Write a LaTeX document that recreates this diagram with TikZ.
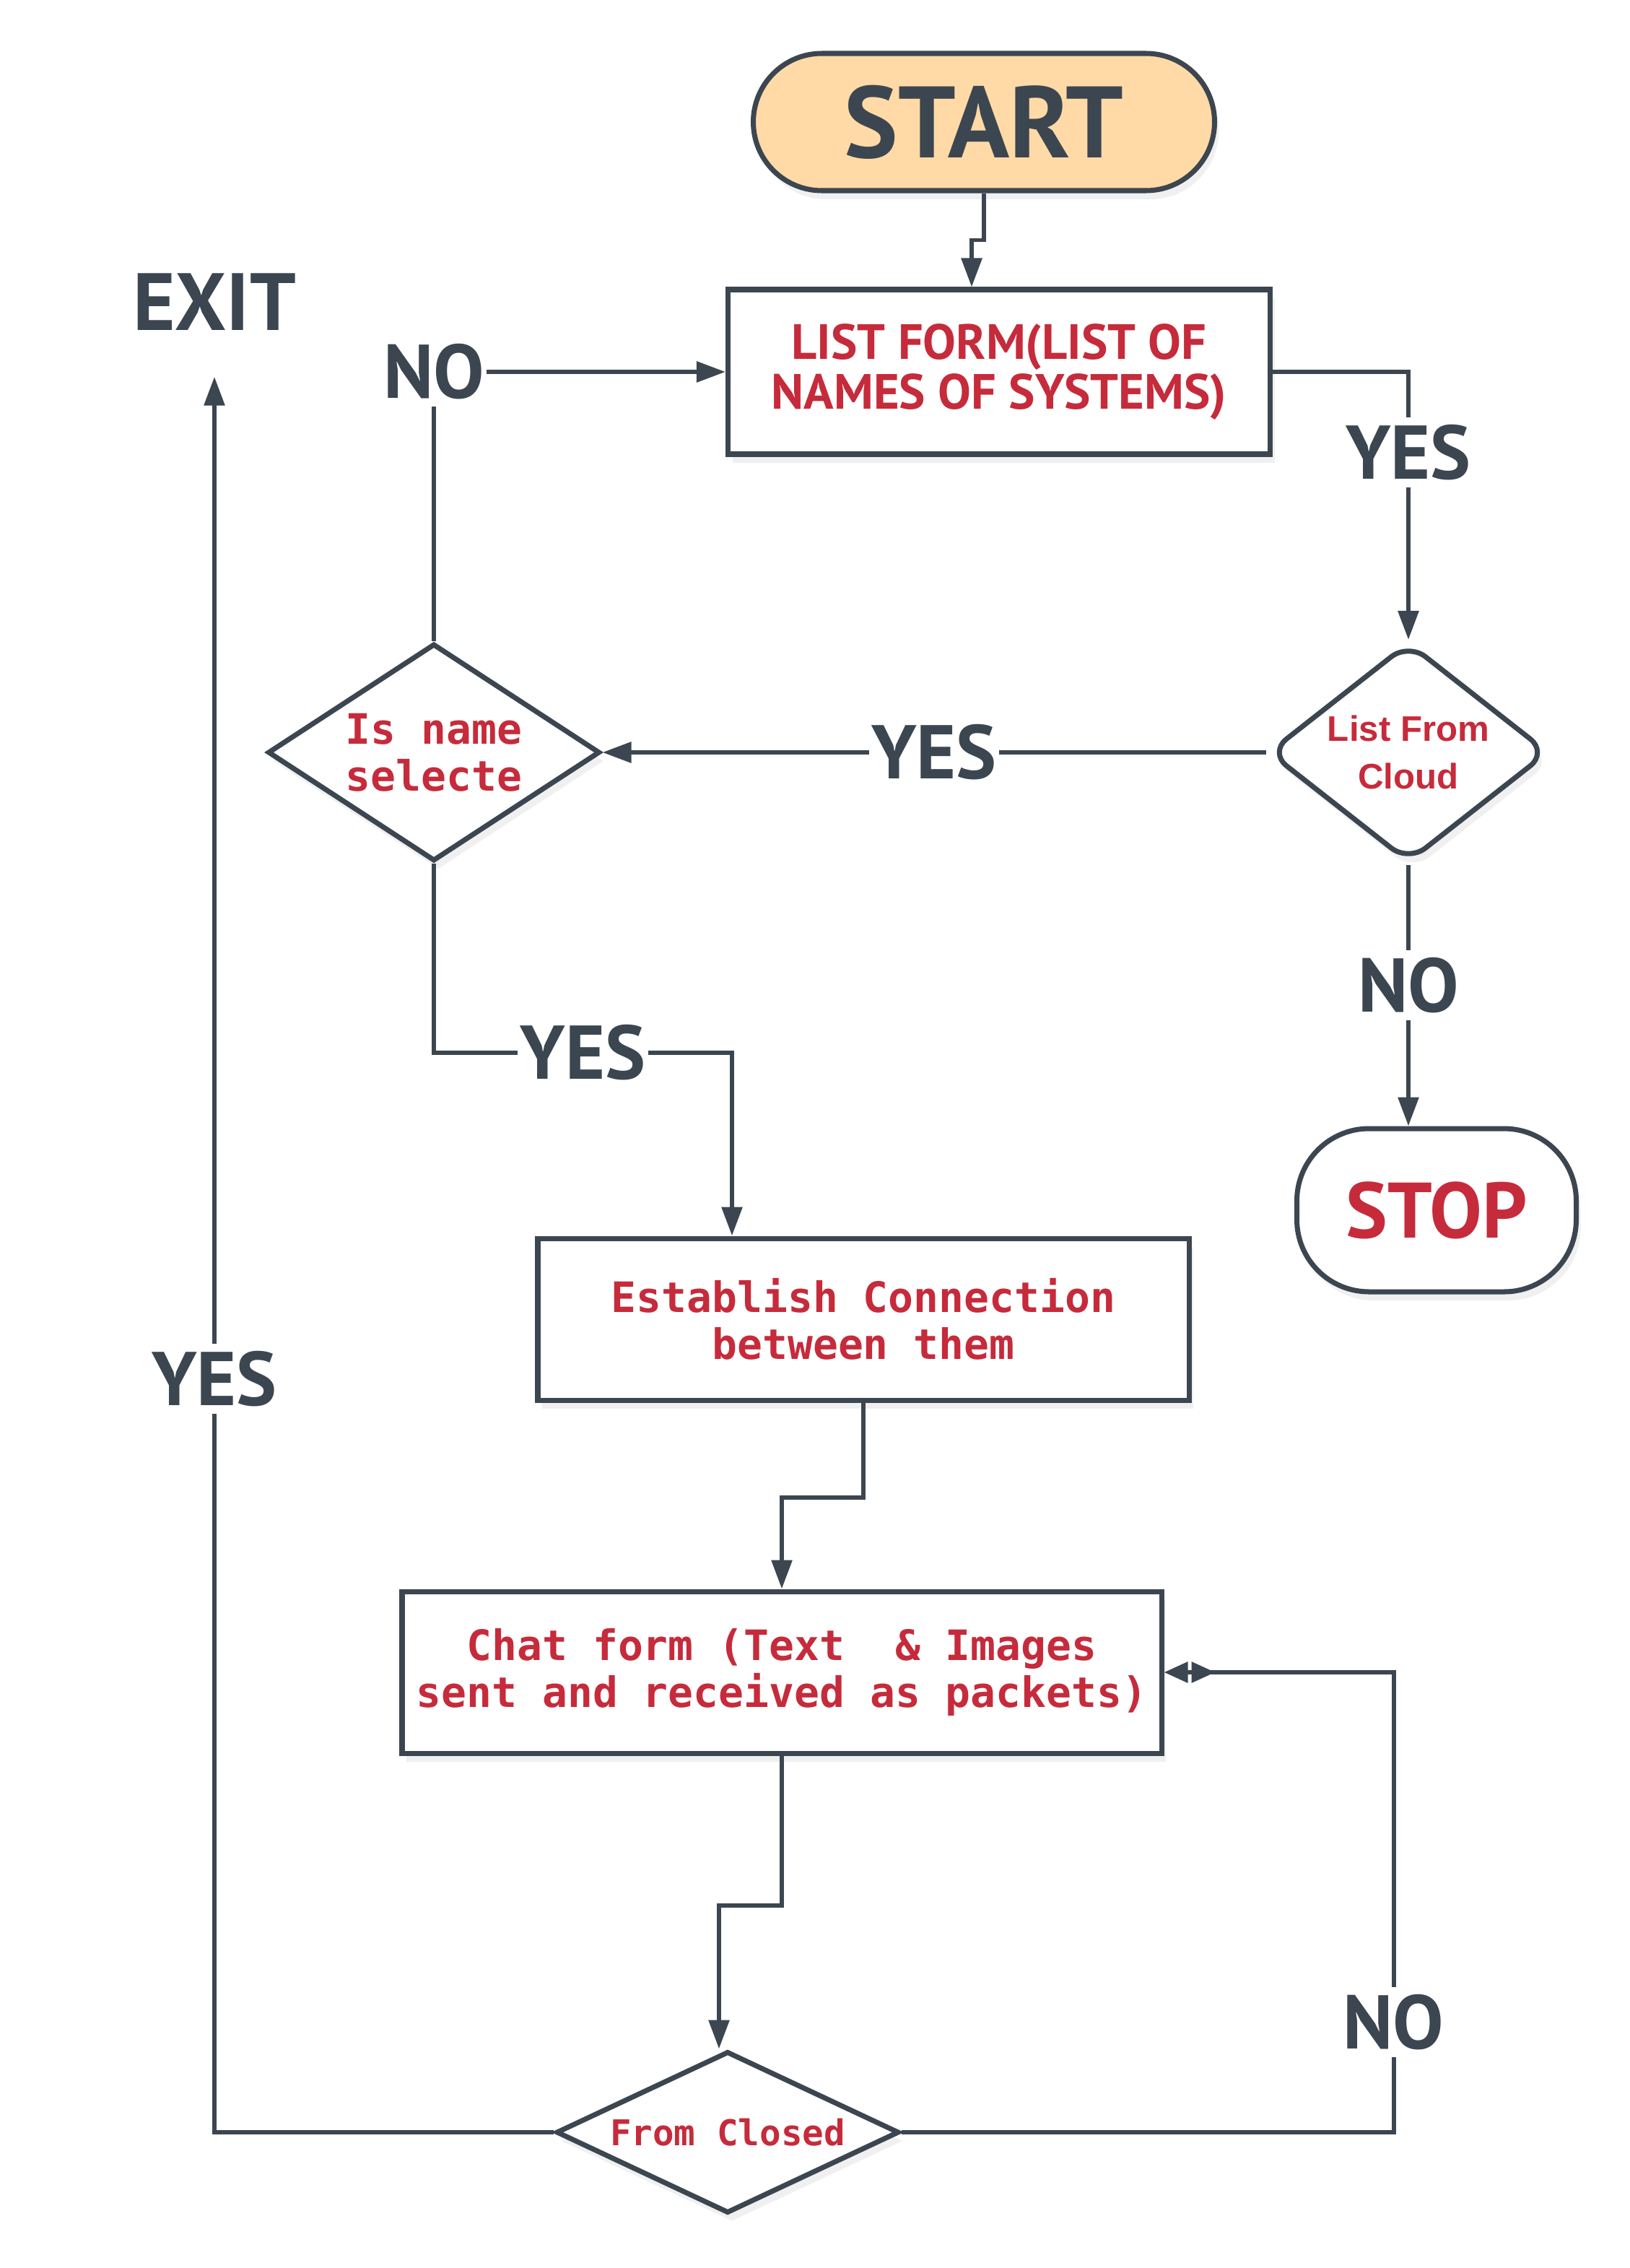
\documentclass[tikz,border=0pt]{standalone}
\usepackage{fontspec}
\newfontfamily\handfont{PT Sans}
\newfontfamily\codefont{DejaVu Sans Mono}
\newfontfamily\cloudfont{Liberation Sans}
\usetikzlibrary{arrows.meta, calc, positioning, shapes.geometric, shadows}
\definecolor{linie}{HTML}{3C4650}
\definecolor{rotton}{HTML}{C62B3B}
\definecolor{startfarbe}{HTML}{FFDAA6}

\begin{document}
\begin{tikzpicture}[
        box/.style={draw=linie, line width=2pt, fill=white, minimum height=2.24cm,
                    align=center, text=rotton, drop shadow={opacity=0.12, shadow xshift=0.6mm, shadow yshift=-1.2mm}},
        decide/.style={diamond, draw=linie, line width=2pt, fill=white, inner sep=0pt,
                    align=center, text=rotton, drop shadow={opacity=0.12, shadow xshift=0.6mm, shadow yshift=-1.2mm}},
        term/.style={draw=linie, line width=2pt, align=center,
                    drop shadow={opacity=0.12, shadow xshift=0.6mm, shadow yshift=-1.2mm}},
        code/.style={font=\codefont\bfseries\fontsize{16.5}{18.5}\selectfont},
        lbl/.style={fill=white, text=linie, font=\handfont\bfseries\fontsize{30}{36}\selectfont,
                    inner xsep=1pt, inner ysep=1mm},
        arr/.style={draw=linie, line width=1.7pt, -{Triangle[length=4mm, width=2.8mm]}},
        arrzwei/.style={draw=linie, line width=1.7pt,
                    -{Triangle[length=3.3mm, width=2.8mm, reversed, sep=0.5mm] Triangle[length=3.3mm, width=2.8mm]}}
      ]
      \useasboundingbox (0,0) rectangle (22.58,-31.41);

      % Knoten von oben nach unten
      \node[term, fill=startfarbe, minimum width=6.39cm, minimum height=1.90cm, rounded corners=0.95cm,
            text=linie, font=\handfont\bfseries\fontsize{40}{44}\selectfont] (start) at (13.63,-1.69) {START};
      \node[box, minimum width=7.51cm, minimum height=2.28cm,
            font=\handfont\bfseries\fontsize{19.5}{19.5}\selectfont] (liste) at (13.84,-5.15)
            {LIST FORM(LIST OF\\NAMES OF SYSTEMS)};

      \node[decide, aspect=1.26, minimum width=3.88cm, minimum height=3.05cm, rounded corners=3mm,
            font=\cloudfont\bfseries\fontsize{14}{19}\selectfont] (cloud) at (19.51,-10.42) {List From\\Cloud};
      \node[decide, aspect=1.53, minimum width=4.60cm, minimum height=3.01cm, code] (name) at (6.01,-10.42)
            {Is name\\selecte};

      \node[term, fill=white, minimum width=3.87cm, minimum height=2.26cm, rounded corners=1cm,
            text=rotton, font=\handfont\bfseries\fontsize{31}{36}\selectfont] (stop) at (19.90,-16.76) {STOP};

      \node[box, minimum width=9.02cm, code] (verb) at (11.96,-18.27) {Establish Connection\\between them};
      \node[box, minimum width=10.52cm, code] (chat) at (10.83,-23.16)
            {Chat form (Text~~\& Images\\sent and received as packets)};
      \node[decide, aspect=2.12, minimum width=4.75cm, minimum height=2.24cm,
            font=\codefont\bfseries\fontsize{14}{16}\selectfont] (zu) at (10.08,-29.53) {From Closed};

      \node[lbl, anchor=base, font=\handfont\bfseries\fontsize{32}{36}\selectfont] (exit) at (2.97,-4.57) {EXIT};

      % Pfeile
      \draw[arr] (start.south) -- ++(0,-0.65) -| ([xshift=-3.8mm]liste.north);
      \draw[arr] (liste.east) -| node[lbl, pos=0.65] {YES} (cloud.north);
      \draw[arr] (cloud.west) -- node[lbl] {YES} (name.east);
      \draw[arr] (cloud.south) -- node[lbl, pos=0.46] {NO} (cloud.south |- stop.north);
      \draw[arr] (name.north) |- node[lbl, pos=0.5] {NO} (liste.west);
      \draw[arr] (name.south) -- ++(0,-2.62) -| node[lbl, pos=0.25] {YES} ([xshift=-1.82cm]verb.north);
      \draw[arr] (verb.south) -- ++(0,-1.31) -| (chat.north);
      \draw[arr] (chat.south) -- ++(0,-2.07) -| ([xshift=-1.2mm]zu.north);
      \draw[arrzwei] (zu.east) -| node[lbl, pos=0.62] {NO} ([xshift=3.18cm]chat.east) -- (chat.east);
      \draw[arr, shorten >=5.4mm] (zu.west) -| node[lbl, pos=0.71] {YES} (exit.south);
    \end{tikzpicture}
\end{document}
